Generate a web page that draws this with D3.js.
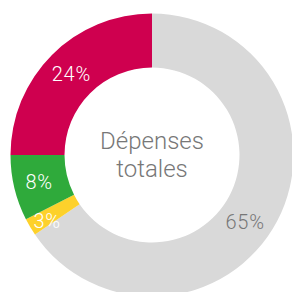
<!DOCTYPE html>
<html><head><meta charset="utf-8">
<script src="https://cdn.jsdelivr.net/npm/d3@7"></script>
<style>html,body{margin:0;padding:0;background:#fff;overflow:hidden}</style>
</head><body><div id="chart"></div>
<script>
const categories = ["Autres", "Jaune", "Vert", "Rouge"];
const values = [65.5, 2, 7.5, 25];
const labels = ["65%", "3%", "8%", "24%"];
const colors = ["#d9d9d9", "#fdd12b", "#2faa3b", "#cf004f"];
const labelColors = ["#777777", "#ffffff", "#ffffff", "#ffffff"];
const centerLines = ["Dépenses", "totales"];

const W = 292, H = 292, cx = 152, cy = 155, R = 141.5, r = 87.5;
const svg = d3.select("#chart").append("svg").attr("width", W).attr("height", H);
const g = svg.append("g").attr("transform", `translate(${cx},${cy})`);

const pie = d3.pie().sort(null).value(d => d.v);
const arcs = pie(values.map((v, i) => ({v, i})));
const arc = d3.arc().innerRadius(r).outerRadius(R);

g.selectAll("path").data(arcs).join("path")
  .attr("d", arc).attr("fill", (d, i) => colors[i]);

const labelNudge = [0.14, -0.03, 0, 0];
const labelR = [115, 124, 116, 114];
g.selectAll("text.lbl").data(arcs).join("text").attr("class", "lbl")
  .attr("transform", (d, i) => {
    const a = (d.startAngle + d.endAngle) / 2 + labelNudge[i];
    return `translate(${labelR[i] * Math.sin(a)},${-labelR[i] * Math.cos(a)})`;
  })
  .attr("text-anchor", "middle").attr("dy", "0.35em")
  .attr("font-family", "Roboto, 'Helvetica Neue', sans-serif").attr("font-weight", 300)
  .attr("font-size", 20).attr("letter-spacing", 0.8)
  .attr("fill", (d, i) => labelColors[i])
  .text((d, i) => labels[i]);

g.selectAll("text.ctr").data(centerLines).join("text").attr("class", "ctr")
  .attr("x", 0).attr("y", (d, i) => -6 + i * 28)
  .attr("text-anchor", "middle")
  .attr("font-family", "Roboto, 'Helvetica Neue', sans-serif").attr("font-weight", 300)
  .attr("font-size", 24).attr("fill", "#777777")
  .text(d => d);
</script></body></html>
